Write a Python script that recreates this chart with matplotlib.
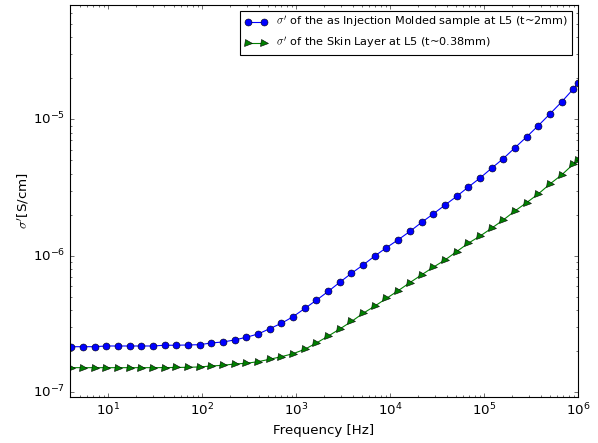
import matplotlib
matplotlib.use('Agg')
import matplotlib.pyplot as plt

plt.style.use('classic')

# frequency sweep [Hz]
freq = [4.07, 5.42, 7.22, 9.61, 12.8, 17.0, 22.7, 30.2, 40.1, 53.4, 71.1, 94.7,
        126, 168, 223, 297, 396, 527, 701, 933, 1242, 1653, 2200, 2929, 3898,
        5188, 6906, 9192, 12235, 16286, 21677, 28854, 38406, 51120, 68043,
        90573, 120558, 160468, 213591, 284300, 378426, 503709, 670467, 892433,
        1000000]

# real part of conductivity [S/cm]
sigma_bulk = [2.149e-7, 2.149e-7, 2.149e-7, 2.175e-7, 2.175e-7, 2.175e-7, 2.175e-7,
              2.175e-7, 2.202e-7, 2.202e-7, 2.213e-7, 2.224e-7, 2.289e-7, 2.328e-7,
              2.408e-7, 2.520e-7, 2.664e-7, 2.913e-7, 3.192e-7, 3.568e-7, 4.10e-7,
              4.715e-7, 5.461e-7, 6.379e-7, 7.427e-7, 8.546e-7, 9.95e-7, 1.145e-6,
              1.308e-6, 1.505e-6, 1.752e-6, 2.023e-6, 2.347e-6, 2.719e-6, 3.182e-6,
              3.704e-6, 4.378e-6, 5.149e-6, 6.188e-6, 7.43e-6, 8.99e-6, 1.096e-5,
              1.342e-5, 1.671e-5, 1.849e-5]

sigma_skin = [1.508e-7, 1.508e-7, 1.508e-7, 1.508e-7, 1.508e-7, 1.508e-7, 1.508e-7,
              1.508e-7, 1.510e-7, 1.513e-7, 1.518e-7, 1.526e-7, 1.552e-7, 1.570e-7,
              1.605e-7, 1.624e-7, 1.669e-7, 1.738e-7, 1.816e-7, 1.910e-7, 2.057e-7,
              2.289e-7, 2.567e-7, 2.899e-7, 3.290e-7, 3.779e-7, 4.268e-7, 4.862e-7,
              5.535e-7, 6.339e-7, 7.228e-7, 8.221e-7, 9.283e-7, 1.070e-6, 1.233e-6,
              1.390e-6, 1.589e-6, 1.828e-6, 2.128e-6, 2.448e-6, 2.836e-6, 3.357e-6,
              3.909e-6, 4.692e-6, 5.01e-6]

fig = plt.figure(figsize=(7.475, 5.5375), dpi=80, facecolor='white')
ax = fig.add_axes([0.117, 0.104, 0.8495, 0.8848])

ax.loglog(freq, sigma_bulk, 'b-o', markersize=6.3,
          label=r"$\sigma'$ of the as Injection Molded sample at L5 (t~2mm)")
ax.loglog(freq, sigma_skin, 'g->', markersize=6.3,
          label=r"$\sigma'$ of the Skin Layer at L5 (t~0.38mm)")

ax.set_xlim(3.95, 1e6)
ax.set_ylim(9.2e-8, 6.9e-5)
ax.set_xlabel('Frequency [Hz]')
ax.set_ylabel(r"$\sigma'$[S/cm]", labelpad=2)
ax.legend(loc='upper right', fontsize=10.1)

plt.savefig('out.png', dpi=80, facecolor='white')
